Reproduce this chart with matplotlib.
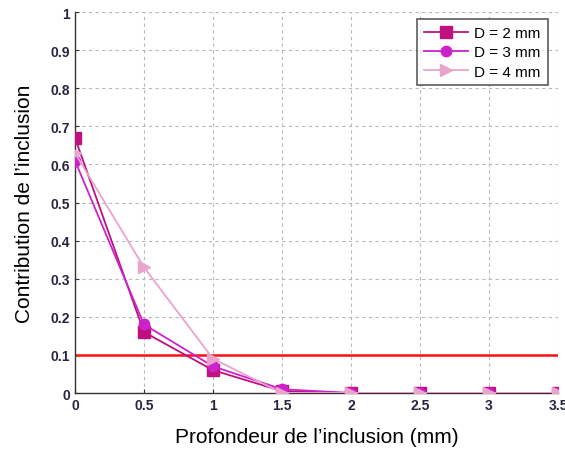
import matplotlib
matplotlib.use("Agg")
import matplotlib.pyplot as plt

depth = [0, 0.5, 1, 1.5, 2, 2.5, 3, 3.5]
d2 = [0.67, 0.16, 0.06, 0.005, 0, 0, 0, 0]
d3 = [0.61, 0.18, 0.07, 0.01, 0, 0, 0, 0]
d4 = [0.63, 0.33, 0.09, 0.0, 0, 0, 0, 0]
threshold = 0.1
xticks = [0, 0.5, 1, 1.5, 2, 2.5, 3, 3.5]
xticklabels = ["0", "0.5", "1", "1.5", "2", "2.5", "3", "3.5"]
yticks = [0, 0.1, 0.2, 0.3, 0.4, 0.5, 0.6, 0.7, 0.8, 0.9, 1]
yticklabels = ["0", "0.1", "0.2", "0.3", "0.4", "0.5", "0.6", "0.7", "0.8", "0.9", "1"]

plt.rcParams['font.family'] = ['Liberation Sans', 'DejaVu Sans']

fig = plt.figure(figsize=(5.65, 4.52), dpi=100)
ax = fig.add_axes([0.1327, 0.1283, 0.9876 - 0.1327, 0.971 - 0.1283])

ax.axhline(threshold, color='#ff1010', lw=1.8, zorder=2)
ax.plot(depth, d2, color='#c0107e', marker='s', ms=8, lw=1.3, label='D = 2 mm', zorder=3)
ax.plot(depth, d3, color='#cc22cc', marker='o', ms=7.5, lw=1.3, label='D = 3 mm', zorder=4)
ax.plot(depth, d4, color='#eaa4cc', marker='>', ms=8, lw=1.3, label='D = 4 mm', zorder=5)

ax.set_xlim(0, 3.5)
ax.set_ylim(0, 1)
ax.set_xticks(xticks)
ax.set_xticklabels(xticklabels)
ax.set_yticks(yticks)
ax.set_yticklabels(yticklabels)
ax.grid(True, linestyle=(0, (3, 3)), color='#b8b8b8', lw=0.8)
ax.set_axisbelow(True)
for s in ['top', 'right']:
    ax.spines[s].set_visible(False)
for s in ['left', 'bottom']:
    ax.spines[s].set_color('#333333')
    ax.spines[s].set_linewidth(1.0)
ax.tick_params(axis='both', labelsize=10, colors='#333333', length=3, direction='in')
for lab in ax.get_xticklabels() + ax.get_yticklabels():
    lab.set_fontweight('bold')
    lab.set_color('#262640')

ax.set_xlabel("Profondeur de l\u2019inclusion (mm)", fontsize=15, labelpad=11)
ax.set_ylabel("Contribution de l\u2019inclusion", fontsize=15, labelpad=12)

leg = ax.legend(loc='upper right', bbox_to_anchor=(0.985, 0.99), fontsize=11,
                frameon=True, fancybox=False, edgecolor='#333333',
                handlelength=2.9, handletextpad=0.4, borderpad=0.45, labelspacing=0.35,
                borderaxespad=0.2)
leg.get_frame().set_linewidth(1.2)

fig.savefig("out.png", dpi=100)
